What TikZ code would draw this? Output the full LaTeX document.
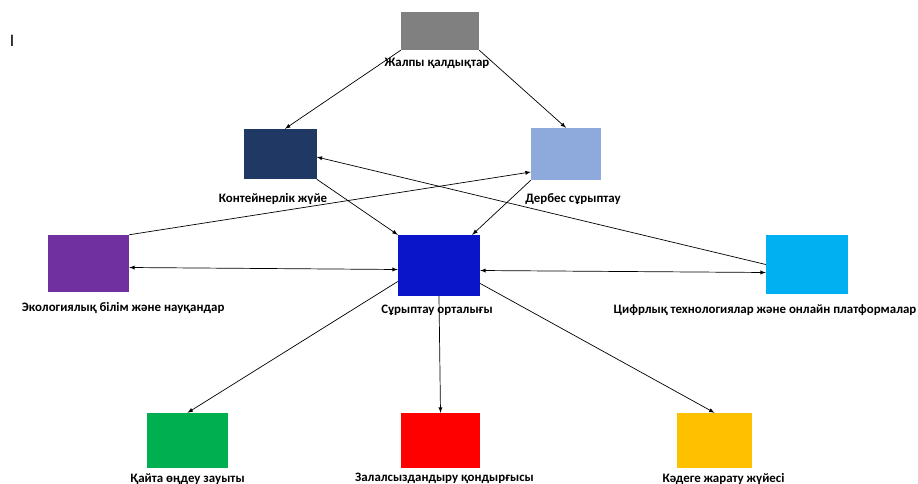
\documentclass[tikz,border=0pt]{standalone}
\usepackage{fontspec}
\setmainfont{Carlito}
\usepackage{xcolor}
\usetikzlibrary{arrows, positioning}
\definecolor{cgray}{HTML}{808080}
\definecolor{cnavy}{HTML}{1F3864}
\definecolor{clight}{HTML}{8EA9DB}
\definecolor{cpurple}{HTML}{7030A0}
\definecolor{cblue}{HTML}{0A14C8}
\definecolor{ccyan}{HTML}{00B0F0}
\definecolor{cgreen}{HTML}{00B050}
\definecolor{cred}{HTML}{FF0000}
\definecolor{cyellow}{HTML}{FFC000}
\begin{document}
\begin{tikzpicture}[x=0.03cm, y=-0.03cm, box/.style={rectangle, inner sep=0pt, minimum width=2.4cm, minimum height=1.7cm}, lbl/.style={inner sep=0pt, font=\bfseries\fontsize{11}{12}\selectfont}, arrow/.style={->, >=latex, line width=0.6pt}]
\useasboundingbox (0,0) rectangle (918,484);
\node[font=\fontsize{15}{16}\selectfont] (cur) at (12,41) {I};
% boxes
\node[box, fill=cgray, minimum width=2.34cm, minimum height=1.14cm] (all) at (440,31) {};
\node[box, fill=cnavy, minimum width=2.19cm, minimum height=1.5cm] (cont) at (280,154) {};
\node[box, fill=clight, minimum width=2.1cm, minimum height=1.56cm] (own) at (566,154) {};
\node[box, fill=cpurple, minimum width=2.43cm, minimum height=1.71cm] (eco) at (88.5,263.5) {};
\node[box, fill=cblue, minimum width=2.46cm, minimum height=1.83cm] (sort) at (439,265.5) {};
\node[box, fill=ccyan, minimum width=2.46cm, minimum height=1.77cm] (dig) at (807,264.5) {};
\node[box, fill=cgreen, minimum width=2.43cm, minimum height=1.65cm] (rec) at (187.5,440.5) {};
\node[box, fill=cred, minimum width=2.37cm, minimum height=1.65cm] (dis) at (440.5,440.5) {};
\node[box, fill=cyellow, minimum width=2.25cm, minimum height=1.65cm] (use) at (714.5,440.5) {};
% labels
\node[lbl, below=0.24cm of all, xshift=-0.09cm] (lall) {Жалпы қалдықтар};
\node[lbl, below=0.42cm of cont, xshift=-0.21cm] (lcont) {Контейнерлік жүйе};
\node[lbl, below=0.39cm of own, xshift=0.21cm] (lown) {Дербес сұрыптау};
\node[lbl, below=0.3cm of eco, xshift=1.04cm] (leco) {Экологиялық білім және науқандар};
\node[lbl, below=0.27cm of sort, xshift=-0.06cm] (lsort) {Сұрыптау орталығы};
\node[lbl, below=0.3cm of dig, xshift=-1.26cm] (ldig) {Цифрлық технологиялар  және онлайн  платформалар};
\node[lbl, below=0.15cm of rec] (lrec) {Қайта өңдеу зауыты};
\node[lbl, below=0.15cm of dis, xshift=0.12cm] (ldis) {Залалсыздандыру қондырғысы};
\node[lbl, below=0.15cm of use, xshift=0.27cm] (luse) {Кәдеге жарату жүйесі};
% connectors
\draw[arrow] (all.south west) -- ([xshift=0.15cm]cont.north);
\draw[arrow] (all.south east) -- (own.north);
\draw[arrow] (cont.south east) -- (sort.north west);
\draw[arrow] (own.south west) -- ([xshift=-0.24cm]sort.north east);
\draw[arrow] (eco.north east) -- ([yshift=-0.54cm]own.west);
\draw[arrow] (dig.west) -- ([yshift=-0.09cm]cont.east);
\draw[arrow, <->] ([yshift=-0.12cm]eco.east) -- ([yshift=-0.12cm]sort.west);
\draw[arrow, <->] ([yshift=-0.15cm]sort.east) -- ([yshift=-0.24cm]dig.west);
\draw[arrow] ([yshift=-0.48cm]sort.west) -- (rec.north);
\draw[arrow] (sort.south) -- (dis.north);
\draw[arrow] ([yshift=-0.54cm]sort.east) -- (use.north);
\end{tikzpicture}
\end{document}
